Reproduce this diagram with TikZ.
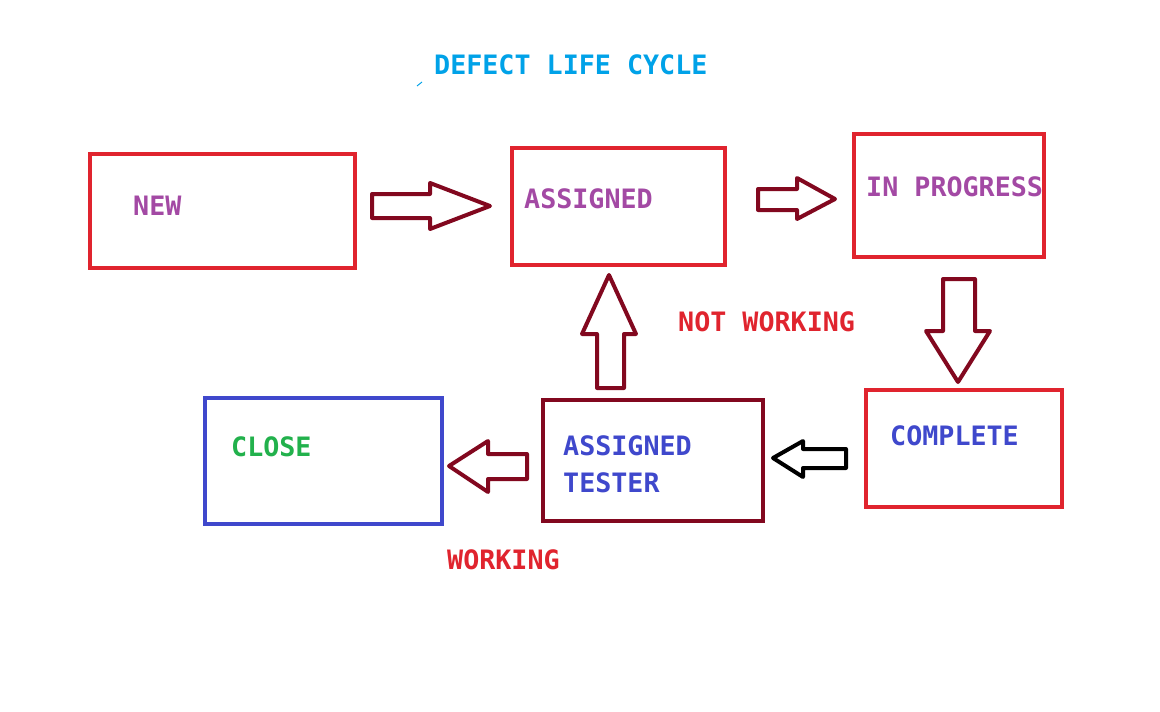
\documentclass[tikz,border=0pt]{standalone}
\usepackage{fontspec}
\setmonofont{DejaVu Sans Mono}
\definecolor{pred}{HTML}{E0242E}
\definecolor{dred}{HTML}{82081F}
\definecolor{ppl}{HTML}{A349A4}
\definecolor{indigo}{HTML}{3F48CC}
\definecolor{pgreen}{HTML}{22B14C}
\definecolor{turq}{HTML}{00A2E8}
\begin{document}
\begin{tikzpicture}[x=1pt,y=-1pt,
  box/.style={draw=#1,line width=4pt,inner sep=0pt,outer sep=0pt},
  lbl/.style={anchor=base west,inner sep=0pt,font=\fontsize{26.7}{30}\selectfont\ttfamily\bfseries,text=#1},
  barrow/.style={draw=#1,line width=4pt,line join=round,fill=white}]
\useasboundingbox[fill=white] (0,0) rectangle (1160,712);
% boxes
\node[box=pred,minimum width=265pt,minimum height=114pt] (new) at (222.5,211) {};
\node[box=pred,minimum width=213pt,minimum height=117pt] (assigned) at (618.5,206.5) {};
\node[box=pred,minimum width=190pt,minimum height=123pt] (progress) at (949,195.5) {};
\node[box=pred,minimum width=196pt,minimum height=117pt] (complete) at (964,448.5) {};
\node[box=dred,minimum width=220pt,minimum height=121pt] (tester) at (653,460.5) {};
\node[box=indigo,minimum width=237pt,minimum height=126pt] (close) at (323.5,461) {};
% labels
\node[lbl=turq] (title) at (434,74) {DEFECT LIFE CYCLE};
\draw[turq,line width=1pt] (417,86) -- (422,82);
\node[lbl=ppl] (tnew) at (133,215) {NEW};
\node[lbl=ppl] (tass) at (524,208) {ASSIGNED};
\node[lbl=ppl] (tprog) at (866,196) {IN PROGRESS};
\node[lbl=indigo] (tcomp) at (890,445) {COMPLETE};
\node[lbl=indigo] (tat1) at (563,455) {ASSIGNED};
\node[lbl=indigo] (tat2) at (563,492) {TESTER};
\node[lbl=pgreen] (tclose) at (231,456) {CLOSE};
\node[lbl=pred] (tnw) at (678,331) {NOT WORKING};
\node[lbl=pred] (tw) at (447,569) {WORKING};
% block arrows
\draw[barrow=dred] (372,194) -- (430,194) -- (430,183) -- (490,206) -- (430,229) -- (430,218) -- (372,218) -- cycle;
\draw[barrow=dred] (758,189) -- (797,189) -- (797,178) -- (835,199) -- (797,219) -- (797,210) -- (758,210) -- cycle;
\draw[barrow=dred] (943,279) -- (975,279) -- (975,331) -- (990,331) -- (958,382) -- (926,331) -- (943,331) -- cycle;
\draw[barrow=dred] (597,388) -- (624,388) -- (624,334) -- (636,334) -- (609,275) -- (582,334) -- (597,334) -- cycle;
\draw[barrow=black] (846,449) -- (803,449) -- (803,441) -- (773,458) -- (803,477) -- (803,468) -- (846,468) -- cycle;
\draw[barrow=dred] (527,454) -- (488,454) -- (488,441) -- (449,466) -- (488,492) -- (488,479) -- (527,479) -- cycle;
\end{tikzpicture}
\end{document}
